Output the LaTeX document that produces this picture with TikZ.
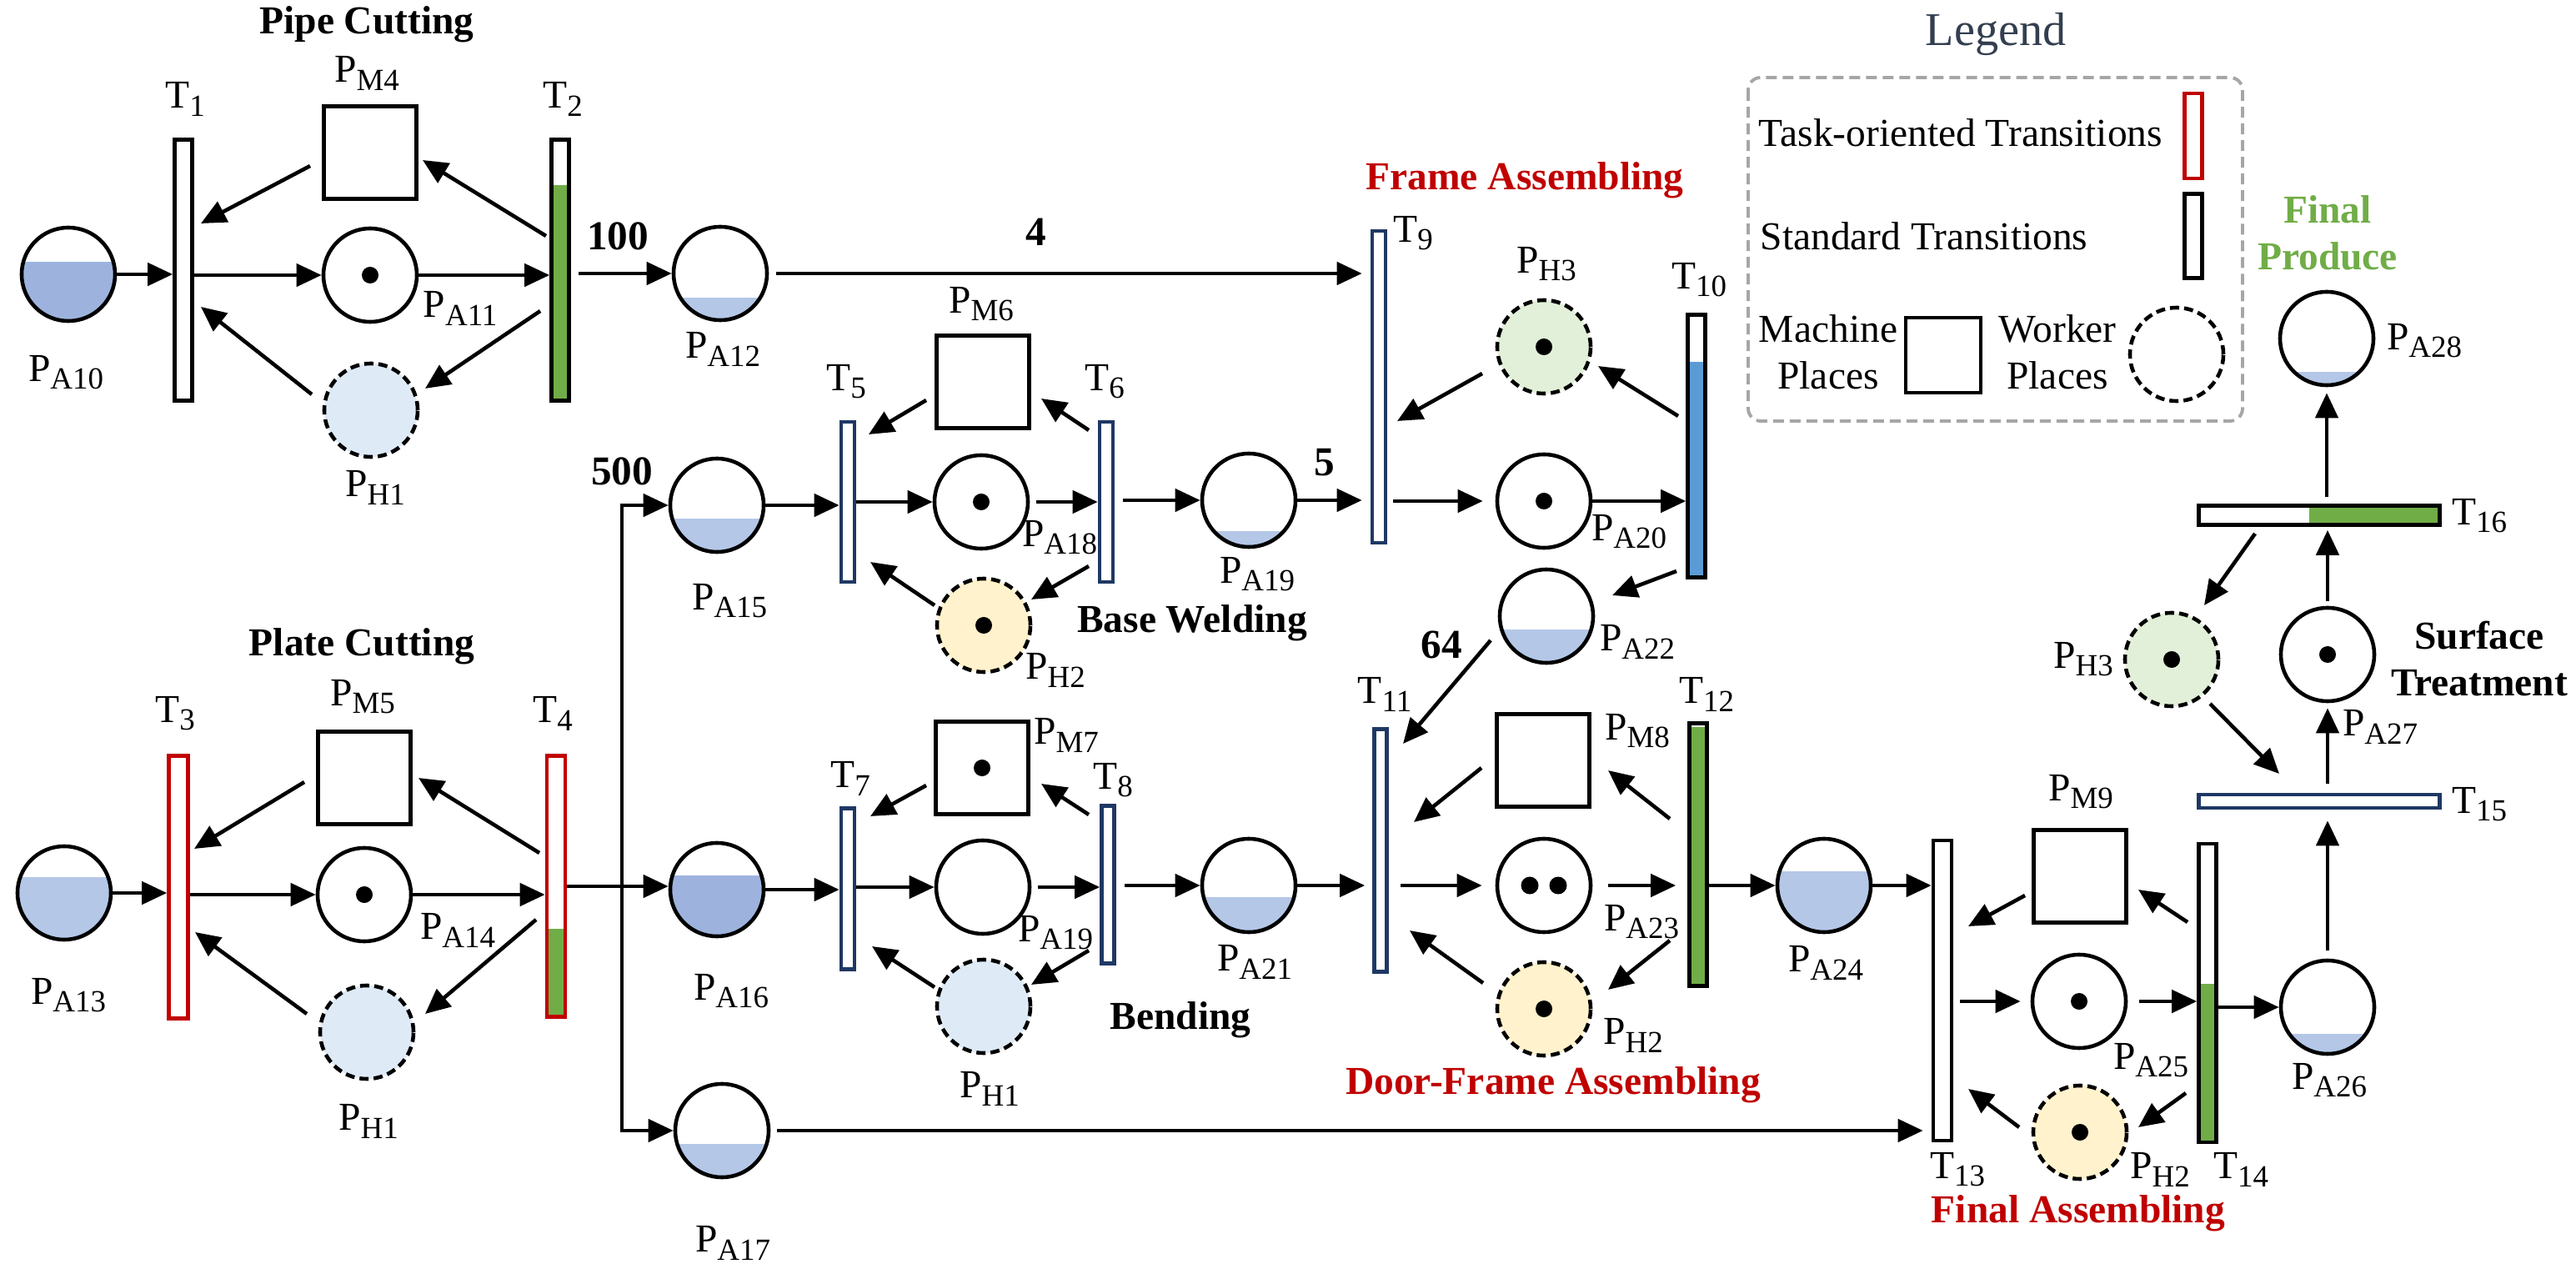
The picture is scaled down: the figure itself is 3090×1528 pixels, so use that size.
\documentclass[tikz,border=0pt]{standalone}
\usepackage{fontspec}
\setmainfont{Liberation Serif}
\usetikzlibrary{arrows.meta, positioning, calc, backgrounds}
\definecolor{taskred}{RGB}{192, 0, 0}
\definecolor{stdnavy}{RGB}{31, 56, 100}
\definecolor{legendink}{RGB}{51, 63, 80}
\definecolor{doneGreen}{RGB}{112, 173, 71}
\definecolor{runBlue}{RGB}{91, 155, 213}
\definecolor{tankdark}{RGB}{157, 179, 222}
\definecolor{tanklight}{RGB}{180, 199, 231}
\definecolor{workerblue}{RGB}{222, 235, 247}
\definecolor{workeryellow}{RGB}{255, 242, 204}
\definecolor{workergreen}{RGB}{226, 240, 217}
\definecolor{framegray}{RGB}{166, 166, 166}

\newcommand{\lowsub}[1]{\raisebox{-0.42ex}{\fontsize{10.5pt}{11pt}\selectfont #1}}
\newcommand{\tank}[3]{%
  \begin{scope}
    \clip (#1.center) circle (0.56cm);
    \fill[#3] ([shift={(-60,60)}]#1.center) rectangle ([shift={(60,#2)}]#1.center);
  \end{scope}}
\newcommand{\fillbar}[3]{\fill[#3] (#1.south west) rectangle ($(#1.south east)!#2!(#1.north east)$);}

\begin{document}
\begin{tikzpicture}[x=0.01cm, y=-0.01cm,
  font=\fontsize{13.5pt}{16pt}\selectfont,
  place/.style={circle, draw, line width=1.3pt, minimum size=1.12cm, inner sep=0pt},
  worker/.style={place, dash pattern=on 0.11cm off 0.06cm},
  machine/.style={rectangle, draw, line width=1.3pt, minimum size=1.11cm, inner sep=0pt},
  trans/.style={rectangle, draw, line width=1.3pt, inner sep=0pt, minimum width=0.21cm},
  navytrans/.style={trans, draw=stdnavy, minimum width=0.16cm},
  tasktrans/.style={trans, draw=taskred, minimum width=0.22cm},
  arc/.style={-{Triangle[length=0.3cm, width=0.27cm]}, line width=1.3pt},
  lab/.style={inner sep=1pt},
  stage/.style={font=\fontsize{13.5pt}{16pt}\selectfont\bfseries, align=center, inner sep=1pt},
  wt/.style={font=\fontsize{14pt}{16pt}\selectfont\bfseries, inner sep=1pt}]

\useasboundingbox (0,0) rectangle (3090,1528);

% Pipe cutting
\node[place] (pa10) at (82,329) {};
\node[trans, minimum height=3.13cm] (t1) at (220,324) {};
\node[machine] (pm4) at (444,183) {};
\node[place] (pa11) at (444,330) {};
\node[worker, fill=workerblue] (ph1a) at (445,492) {};
\node[trans, minimum height=3.13cm] (t2) at (672,324) {};
\node[place] (pa12) at (864,328) {};

\node[stage] (pipecut) at (440,29) {Pipe Cutting};
\node[lab] (la10) at (79,447) {P\lowsub{A10}};
\node[lab] (lt1) at (222,119) {T\lowsub{1}};
\node[lab] (lm4) at (440,88) {P\lowsub{M4}};
\node[lab] (la11) at (552,370) {P\lowsub{A11}};
\node[lab] (lh1a) at (450,585) {P\lowsub{H1}};
\node[lab] (lt2) at (675,119) {T\lowsub{2}};
\node[lab] (la12) at (867,419) {P\lowsub{A12}};

\draw[arc] (pa10.east) -- (pa10.east -| t1.west);
\draw[arc] (t1.east |- pa11.west) -- (pa11.west);
\draw[arc] (pa11.east) -- (pa11.east -| t2.west);
\draw[arc, shorten <=0.09cm] (t2.east |- pa12.west) -- (pa12.west);
\node[wt] (w100) at (741,283) {100};
\draw[arc] ([shift={(-72,16)}]pm4.center) -- ([shift={(21,-56)}]t1.center);
\draw[arc] ([shift={(-17,-41)}]t2.center) -- ([shift={(63,9)}]pm4.center);
\draw[arc] ([shift={(-24,49)}]t2.center) -- ([shift={(65,-26)}]ph1a.center);
\draw[arc] ([shift={(-71,-19)}]ph1a.center) -- ([shift={(21,44)}]t1.center);

% Plate cutting
\node[place] (pa13) at (77,1071) {};
\node[tasktrans, minimum width=0.23cm, minimum height=3.15cm] (t3) at (214,1064) {};
\node[machine] (pm5) at (437,933) {};
\node[place] (pa14) at (437,1073) {};
\node[worker, fill=workerblue] (ph1b) at (440,1238) {};
\node[tasktrans, minimum height=3.13cm] (t4) at (667,1063) {};

\node[stage] (platecut) at (434,775) {Plate Cutting};
\node[lab] (la13) at (82,1194) {P\lowsub{A13}};
\node[lab] (lt3) at (210,856) {T\lowsub{3}};
\node[lab] (lm5) at (435,836) {P\lowsub{M5}};
\node[lab] (la14) at (549,1116) {P\lowsub{A14}};
\node[lab] (lh1b) at (442,1345) {P\lowsub{H1}};
\node[lab] (lt4) at (663,856) {T\lowsub{4}};

\draw[arc] (pa13.east) -- (pa13.east -| t3.west);
\draw[arc] (t3.east |- pa14.west) -- (pa14.west);
\draw[arc] (pa14.east) -- (pa14.east -| t4.west);
\draw[arc] ([shift={(-72,5)}]pm5.center) -- ([shift={(19,-46)}]t3.center);
\draw[arc] ([shift={(-20,-40)}]t4.center) -- ([shift={(65,0)}]pm5.center);
\draw[arc] ([shift={(-24,40)}]t4.center) -- ([shift={(70,-22)}]ph1b.center);
\draw[arc] ([shift={(-72,-22)}]ph1b.center) -- ([shift={(20,54)}]t3.center);

% Plates split to three buffers
\node[place] (pa15) at (860,606) {};
\node[place] (pa16) at (860,1067) {};
\node[place] (pa17) at (866,1356) {};
\node[lab] (la15) at (875,721) {P\lowsub{A15}};
\node[lab] (la16) at (877,1189) {P\lowsub{A16}};
\node[lab] (la17) at (879,1491) {P\lowsub{A17}};
\coordinate (split) at (746,1063);
\draw[arc] (t4.east) -- (t4.east -| pa16.west);
\draw[arc] (split) |- (pa15.west);
\draw[arc] (split) |- (pa17.west);
\node[wt] (w500) at (746,565) {500};

% Base welding
\node[navytrans, minimum height=1.92cm] (t5) at (1017,602) {};
\node[machine] (pm6) at (1179,458) {};
\node[place] (pa18) at (1177,602) {};
\node[worker, fill=workeryellow] (ph2a) at (1180,750) {};
\node[navytrans, minimum height=1.92cm] (t6) at (1327,602) {};
\node[place] (pa19a) at (1498,600) {};

\node[stage] (basewelding) at (1430,747) {Base Welding};
\node[lab] (lt5) at (1015,458) {T\lowsub{5}};
\node[lab] (lm6) at (1177,365) {P\lowsub{M6}};
\node[lab] (lt6) at (1325,458) {T\lowsub{6}};
\node[lab] (la18) at (1271,645) {P\lowsub{A18}};
\node[lab] (lh2a) at (1266,804) {P\lowsub{H2}};
\node[lab] (la19a) at (1508,689) {P\lowsub{A19}};

\draw[arc] (pa15.east) -- (pa15.east -| t5.west);
\draw[arc] (t5.east |- pa18.west) -- (pa18.west);
\draw[arc, shorten <=0.08cm] (pa18.east) -- (pa18.east -| t6.west);
\draw[arc, shorten <=0.1cm] (t6.east |- pa19a.west) -- (pa19a.west);
\draw[arc] ([shift={(-68,22)}]pm6.center) -- ([shift={(25,-81)}]t5.center);
\draw[arc] ([shift={(-21,-86)}]t6.center) -- ([shift={(70,20)}]pm6.center);
\draw[arc] ([shift={(-21,77)}]t6.center) -- ([shift={(57,-31)}]ph2a.center);
\draw[arc] ([shift={(-59,-24)}]ph2a.center) -- ([shift={(27,72)}]t5.center);

% Bending
\node[navytrans, minimum height=1.93cm] (t7) at (1017,1066) {};
\node[machine] (pm7) at (1178,921) {};
\node[place] (pa19b) at (1179,1064) {};
\node[worker, fill=workerblue] (ph1c) at (1180,1207) {};
\node[navytrans, minimum width=0.15cm, minimum height=1.89cm] (t8) at (1329,1061) {};
\node[place] (pa21) at (1498,1062) {};

\node[stage] (bending) at (1416,1223) {Bending};
\node[lab] (lt7) at (1020,934) {T\lowsub{7}};
\node[lab] (lm7) at (1279,882) {P\lowsub{M7}};
\node[lab] (lt8) at (1335,936) {T\lowsub{8}};
\node[lab] (la19b) at (1266,1119) {P\lowsub{A19}};
\node[lab] (lh1c) at (1187,1306) {P\lowsub{H1}};
\node[lab] (la21) at (1505,1154) {P\lowsub{A21}};

\draw[arc] (pa16.east) -- (pa16.east -| t7.west);
\draw[arc] (t7.east |- pa19b.west) -- (pa19b.west);
\draw[arc, shorten <=0.08cm] (pa19b.east) -- (pa19b.east -| t8.west);
\draw[arc, shorten <=0.1cm] (t8.east |- pa21.west) -- (pa21.west);
\draw[arc] ([shift={(-67,21)}]pm7.center) -- ([shift={(27,-87)}]t7.center);
\draw[arc] ([shift={(-23,-84)}]t8.center) -- ([shift={(71,19)}]pm7.center);
\draw[arc] ([shift={(-23,79)}]t8.center) -- ([shift={(57,-26)}]ph1c.center);
\draw[arc] ([shift={(-59,-23)}]ph1c.center) -- ([shift={(29,69)}]t7.center);

% Frame assembling
\node[navytrans, minimum height=3.74cm] (t9) at (1654,464) {};
\node[worker, fill=workergreen] (ph3a) at (1852,416) {};
\node[place] (pa20) at (1852,601) {};
\node[trans, minimum height=3.15cm] (t10) at (2035,535) {};
\node[place] (pa22) at (1855,739) {};

\node[stage, text=taskred] (frameasm) at (1829,216) {Frame Assembling};
\node[lab] (lt9) at (1695,280) {T\lowsub{9}};
\node[lab] (lh3a) at (1855,317) {P\lowsub{H3}};
\node[lab] (la20) at (1954,638) {P\lowsub{A20}};
\node[lab] (lt10) at (2038,336) {T\lowsub{10}};
\node[lab] (la22) at (1964,770) {P\lowsub{A22}};

\draw[arc, shorten <=0.09cm, shorten >=0.1cm] (pa12.east) -- (pa12.east -| t9.west);
\node[wt] (w4) at (1243,278) {4};
\draw[arc, shorten >=0.1cm] (pa19a.east) -- (pa19a.east -| t9.west);
\node[wt] (w5) at (1589,555) {5};
\draw[arc, shorten <=0.07cm, shorten >=0.15cm] (t9.east |- pa20.west) -- (pa20.west);
\draw[arc] (pa20.east) -- (pa20.east -| t10.west);
\draw[arc] ([shift={(-22,-36)}]t10.center) -- ([shift={(65,23)}]ph3a.center);
\draw[arc] ([shift={(-74,32)}]ph3a.center) -- ([shift={(22,41)}]t9.center);
\draw[arc] ([shift={(-24,150)}]t10.center) -- ([shift={(79,-25)}]pa22.center);

% Door-frame assembling
\node[navytrans, minimum width=0.15cm, minimum height=2.91cm] (t11) at (1656,1020) {};
\node[machine] (pm8) at (1851,912) {};
\node[place] (pa23) at (1852,1062) {};
\node[worker, fill=workeryellow] (ph2b) at (1852,1210) {};
\node[trans, minimum height=3.15cm] (t12) at (2037,1025) {};
\node[place] (pa24) at (2188,1062) {};

\node[stage, text=taskred] (doorframe) at (1863,1301) {Door-Frame Assembling};
\node[lab] (lt11) at (1661,833) {T\lowsub{11}};
\node[lab] (lm8) at (1964,877) {P\lowsub{M8}};
\node[lab] (la23) at (1969,1106) {P\lowsub{A23}};
\node[lab] (lh2b) at (1959,1242) {P\lowsub{H2}};
\node[lab] (lt12) at (2047,833) {T\lowsub{12}};
\node[lab] (la24) at (2190,1155) {P\lowsub{A24}};

\draw[arc] ([shift={(-67,29)}]pa22.center) -- ([shift={(27,-128)}]t11.center);
\node[wt] (w64) at (1729,773) {64};
\draw[arc, shorten >=0.09cm] (pa21.east) -- (pa21.east -| t11.west);
\draw[arc, shorten <=0.14cm, shorten >=0.16cm] (t11.east |- pa23.west) -- (pa23.west);
\draw[arc, shorten <=0.19cm, shorten >=0.14cm] (pa23.east) -- (pa23.east -| t12.west);
\draw[arc] (t12.east |- pa24.west) -- (pa24.west);
\draw[arc] ([shift={(-74,9)}]pm8.center) -- ([shift={(40,-34)}]t11.center);
\draw[arc] ([shift={(-34,-43)}]t12.center) -- ([shift={(78,12)}]pm8.center);
\draw[arc] ([shift={(-34,103)}]t12.center) -- ([shift={(77,-23)}]ph2b.center);
\draw[arc] ([shift={(-73,-31)}]ph2b.center) -- ([shift={(35,96)}]t11.center);

% Final assembling
\node[trans, minimum width=0.22cm, minimum height=3.60cm] (t13) at (2330,1188) {};
\node[machine] (pm9) at (2495,1051) {};
\node[place] (pa25) at (2494,1201) {};
\node[worker, fill=workeryellow] (ph2c) at (2495,1358) {};
\node[trans, minimum height=3.58cm] (t14) at (2648,1191) {};
\node[place] (pa26) at (2792,1208) {};

\node[stage, text=taskred] (finalasm) at (2493,1455) {Final Assembling};
\node[lab] (lt13) at (2348,1403) {T\lowsub{13}};
\node[lab] (lm9) at (2496,950) {P\lowsub{M9}};
\node[lab] (la25) at (2580,1272) {P\lowsub{A25}};
\node[lab] (lh2c) at (2591,1403) {P\lowsub{H2}};
\node[lab] (lt14) at (2688,1403) {T\lowsub{14}};
\node[lab] (la26) at (2794,1296) {P\lowsub{A26}};

\draw[arc, shorten <=0.08cm, shorten >=0.1cm] (pa17.east) -- (pa17.east -| t13.west);
\draw[arc] (pa24.east) -- (pa24.east -| t13.west);
\draw[arc, shorten <=0.08cm, shorten >=0.12cm] (t13.east |- pa25.west) -- (pa25.west);
\draw[arc, shorten <=0.14cm] (pa25.east) -- (pa25.east -| t14.west);
\draw[arc] (t14.east |- pa26.west) -- (pa26.west);
\draw[arc] ([shift={(-66,23)}]pm9.center) -- ([shift={(31,-77)}]t13.center);
\draw[arc] ([shift={(-24,-85)}]t14.center) -- ([shift={(70,16)}]pm9.center);
\draw[arc] ([shift={(-26,120)}]t14.center) -- ([shift={(70,-6)}]ph2c.center);
\draw[arc] ([shift={(-73,-6)}]ph2c.center) -- ([shift={(31,118)}]t13.center);

% Surface treatment and final produce
\node[trans, draw=stdnavy, minimum width=2.89cm, minimum height=0.16cm] (t15) at (2782,961) {};
\node[place] (pa27) at (2792,785) {};
\node[worker, fill=workergreen] (ph3b) at (2605,791) {};
\node[trans, minimum width=2.89cm, minimum height=0.23cm] (t16) at (2782,618) {};
\node[place] (pa28) at (2791,406) {};

\node[stage] (surface) at (2974,790) {Surface\\Treatment};
\node[stage, text=doneGreen] (produce) at (2792,279) {Final\\Produce};
\node[lab] (lt15) at (2974,965) {T\lowsub{15}};
\node[lab] (la27) at (2855,872) {P\lowsub{A27}};
\node[lab] (lh3b) at (2499,791) {P\lowsub{H3}};
\node[lab] (lt16) at (2974,619) {T\lowsub{16}};
\node[lab] (la28) at (2908,409) {P\lowsub{A28}};

\draw[arc, shorten <=0.1cm, shorten >=0.13cm] (pa26.north) -- (pa26.north |- t15.south);
\draw[arc, shorten <=0.11cm, shorten >=0.06cm] (pa27.south |- t15.north) -- (pa27.south);
\draw[arc, shorten <=0.06cm, shorten >=0.04cm] (pa27.north) -- (pa27.north |- t16.south);
\draw[arc, shorten <=0.08cm, shorten >=0.07cm] (pa28.south |- t16.north) -- (pa28.south);
\draw[arc] ([shift={(46,53)}]ph3b.center) -- ([shift={(-48,-33)}]t15.center);
\draw[arc] ([shift={(-77,22)}]t16.center) -- ([shift={(39,-65)}]ph3b.center);

% Tokens
\foreach \n in {pa11, pa14, pa18, ph2a, pm7, ph3a, pa20, ph2b, pa25, ph2c, ph3b, pa27}
  \fill (\n.center) circle (0.1cm);
\fill ([xshift=-0.17cm]pa23.center) circle (0.105cm);
\fill ([xshift=0.17cm]pa23.center) circle (0.105cm);

% Legend
\node[font=\fontsize{16pt}{18pt}\selectfont, text=legendink] (legtitle) at (2394,41) {Legend};
\draw[framegray, line width=1.1pt, dash pattern=on 0.13cm off 0.07cm, rounded corners=0.15cm]
  (2097,93) rectangle (2690,505);
\node[anchor=west, inner sep=0pt] (legtask) at (2109,159) {Task-oriented Transitions};
\node[tasktrans, minimum width=0.21cm, minimum height=1.02cm] (legred) at (2631,163) {};
\node[anchor=west, inner sep=0pt] (legstd) at (2111,283) {Standard Transitions};
\node[trans, minimum height=1.01cm] (legblack) at (2631,283) {};
\node[align=center, inner sep=0pt] (legmach) at (2193,422) {Machine\\Places};
\node[machine, minimum size=0.9cm] (legsquare) at (2331,426) {};
\node[align=center, inner sep=0pt] (legwork) at (2468,422) {Worker\\Places};
\node[worker] (legcircle) at (2611,425) {};

% Token levels and firing progress
\begin{pgfonlayer}{background}
\tank{pa10}{-15}{tankdark}
\tank{pa12}{29}{tanklight}
\tank{pa13}{-19}{tanklight}
\tank{pa15}{16}{tanklight}
\tank{pa16}{-17}{tankdark}
\tank{pa17}{16}{tanklight}
\tank{pa19a}{37}{tanklight}
\tank{pa21}{14}{tanklight}
\tank{pa22}{16}{tanklight}
\tank{pa24}{-17}{tanklight}
\tank{pa26}{32}{tanklight}
\tank{pa28}{40}{tanklight}
\fillbar{t2}{0.82}{doneGreen}
\fillbar{t4}{0.34}{doneGreen}
\fillbar{t10}{0.815}{runBlue}
\fillbar{t12}{0.98}{doneGreen}
\fillbar{t14}{0.53}{doneGreen}
\fill[doneGreen] (t16.north east) rectangle ($(t16.south east)!0.54!(t16.south west)$);
\end{pgfonlayer}

\end{tikzpicture}
\end{document}
